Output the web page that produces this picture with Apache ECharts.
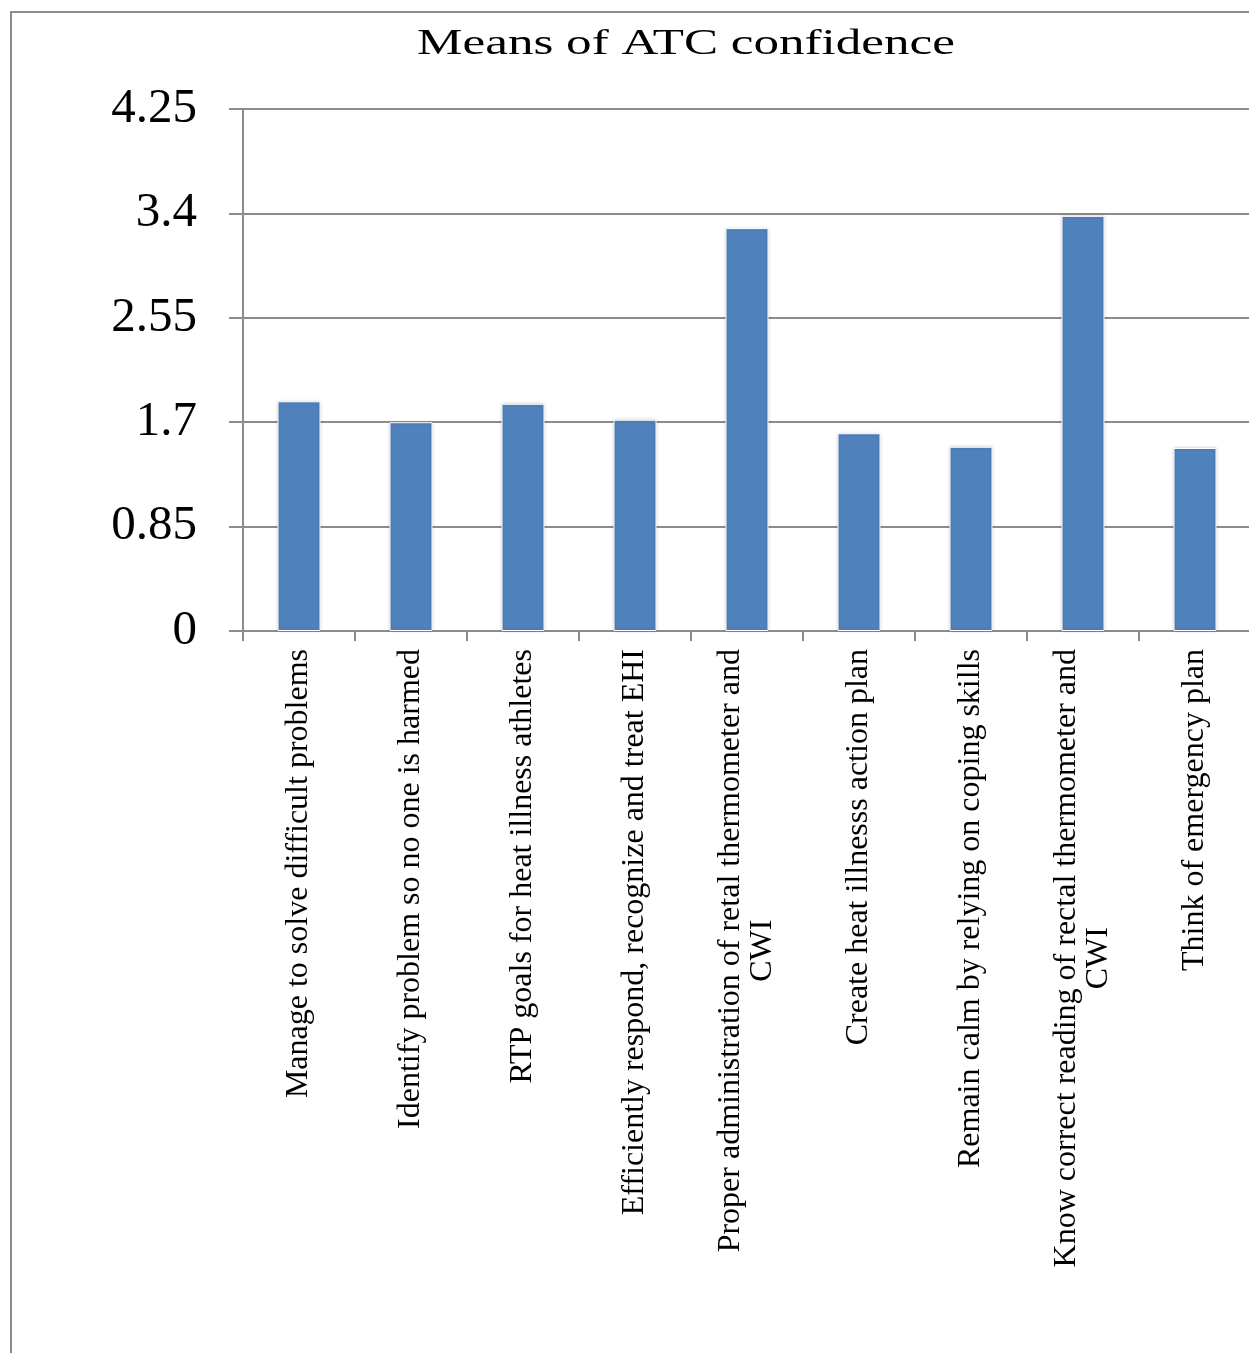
<!DOCTYPE html>
<html>
<head>
<meta charset="utf-8">
<script src="https://cdn.jsdelivr.net/npm/echarts@6/dist/echarts.min.js"></script>
<style>
html,body{margin:0;padding:0;background:#fff;}
#chart{width:1249px;height:1353px;}
</style>
</head>
<body>
<div id="chart"></div>
<script>
const titleText = 'Means of ATC confidence';
const categories = [
  'Manage to solve difficult problems',
  'Identify problem so no one is harmed',
  'RTP goals for heat illness athletes',
  'Efficiently respond, recognize and treat EHI',
  'Proper administration of retal thermometer and\nCWI',
  'Create heat illnesss action plan',
  'Remain calm by relying on coping skills',
  'Know correct reading of rectal thermometer and\nCWI',
  'Think of emergency plan'
];
const meanValues = [1.87, 1.70, 1.85, 1.72, 3.28, 1.61, 1.50, 3.38, 1.49];
const yTickLabels = ['0', '0.85', '1.7', '2.55', '3.4', '4.25'];

const serif = '"Liberation Serif", "Times New Roman", serif';
const gray = '#8c8c8c';

const chart = echarts.init(document.getElementById('chart'), null, {renderer: 'canvas'});
chart.setOption({
  backgroundColor: '#fff',
  animation: false,
  graphic: [{
    type: 'rect',
    shape: {x: 11, y: 12, width: 1400, height: 1500},
    style: {fill: 'none', stroke: gray, lineWidth: 2},
    silent: true,
    z: -1
  }, {
    type: 'text',
    x: 686,
    y: 45,
    scaleX: 1.46,
    scaleY: 1,
    silent: true,
    style: {
      text: titleText,
      fontFamily: serif,
      fontSize: 35,
      fill: '#000',
      align: 'center',
      verticalAlign: 'middle'
    }
  }],
  grid: {
    left: 243, top: 109, width: 1008, height: 522,
    containLabel: false,
    outerBoundsMode: 'none'
  },
  xAxis: {
    type: 'category',
    data: categories,
    axisLine: {lineStyle: {color: gray, width: 2}},
    axisTick: {show: true, length: 10, lineStyle: {color: gray, width: 2}},
    axisLabel: {
      rotate: 90,
      interval: 0,
      margin: 18,
      color: '#000',
      fontFamily: serif,
      fontSize: 32,
      lineHeight: 32,
      formatter: function (v) {
        return v.split('\n').map(function (s) { return '{c|' + s + '}'; }).join('\n');
      },
      rich: {c: {align: 'center', fontFamily: serif, fontSize: 32, lineHeight: 32, color: '#000'}}
    }
  },
  yAxis: {
    type: 'value',
    min: 0,
    max: 4.25,
    interval: 0.85,
    axisLine: {show: true, lineStyle: {color: gray, width: 2}},
    axisTick: {show: true, length: 14, lineStyle: {color: gray, width: 2}},
    splitLine: {show: true, lineStyle: {color: gray, width: 2}},
    axisLabel: {
      margin: 46,
      color: '#000',
      fontFamily: serif,
      fontSize: 49,
      formatter: function (v) {
        const i = Math.round(v / 0.85);
        return yTickLabels[i] !== undefined ? yTickLabels[i] : String(v);
      }
    }
  },
  series: [{
    type: 'bar',
    data: meanValues,
    barWidth: 43,
    itemStyle: {
      color: '#4f81bd',
      borderColor: '#ffffff',
      borderWidth: 1,
      shadowColor: 'rgba(0,0,0,0.18)',
      shadowBlur: 3
    }
  }]
});
</script>
</body>
</html>
